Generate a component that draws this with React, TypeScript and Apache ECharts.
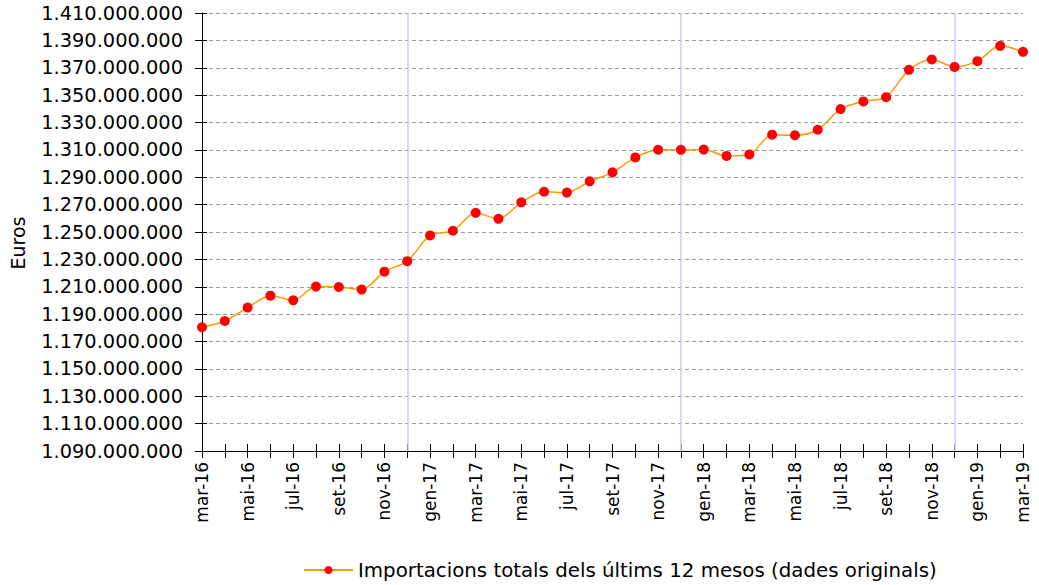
import React, { useEffect, useRef } from "react";
import * as echarts from "echarts";

const categories = [
  "mar-16", "abr-16", "mai-16", "jun-16", "jul-16", "ago-16", "set-16", "oct-16", "nov-16", "des-16",
  "gen-17", "feb-17", "mar-17", "abr-17", "mai-17", "jun-17", "jul-17", "ago-17", "set-17", "oct-17", "nov-17", "des-17",
  "gen-18", "feb-18", "mar-18", "abr-18", "mai-18", "jun-18", "jul-18", "ago-18", "set-18", "oct-18", "nov-18", "des-18",
  "gen-19", "feb-19", "mar-19",
];

const importacions = [
  1180400000, 1185000000, 1194800000, 1203500000, 1200100000, 1210100000, 1209800000, 1207900000, 1221000000, 1228700000,
  1247500000, 1250900000, 1264000000, 1259600000, 1271700000, 1279400000, 1278800000, 1287000000, 1293600000, 1304500000, 1310100000, 1310000000,
  1310200000, 1305600000, 1306700000, 1321100000, 1320700000, 1324700000, 1339800000, 1345400000, 1348500000, 1368500000, 1376000000, 1370600000,
  1374800000, 1386000000, 1381600000,
];

const yearBreaks = ["des-16", "des-17", "des-18"];

const seriesName = "Importacions totals dels últims 12 mesos (dades originals)";
const yAxisName = "Euros";

const yMin = 1090000000;
const yMax = 1410000000;
const yStep = 20000000;

const fmt = (n: number) => String(Math.round(n)).replace(/\B(?=(\d{3})+(?!\d))/g, ".");

const FONT = "DejaVu Sans";

export default function App() {
  const ref = useRef<HTMLDivElement>(null);

  useEffect(() => {
    document.body.style.margin = "0";
    if (!ref.current) return;
    const chart = echarts.init(ref.current, undefined, { renderer: "svg" });
    const span = yMax - yMin;
    chart.setOption({
      animation: false,
      backgroundColor: "#ffffff",
      textStyle: { fontFamily: FONT, color: "#000" },
      grid: { left: 201.5, right: 16, top: 13, bottom: 134, containLabel: false },
      legend: {
        data: [seriesName],
        left: 298,
        top: 555,
        itemWidth: 49,
        itemHeight: 10,
        textStyle: { fontFamily: FONT, fontSize: 19.8, color: "#000" },
      },
      xAxis: [
        {
          type: "category",
          data: categories,
          boundaryGap: false,
          position: "bottom",
          axisLine: { show: true, lineStyle: { color: "#000", width: 1 } },
          axisTick: { show: true, inside: false, length: 7, interval: 0, lineStyle: { color: "#000" } },
          axisLabel: {
            interval: 1,
            rotate: 90,
            margin: 11,
            fontFamily: FONT,
            fontSize: 17,
            color: "#000",
          },
          splitLine: { show: false },
        },
        {
          type: "category",
          data: categories,
          boundaryGap: false,
          position: "bottom",
          axisLine: { show: false },
          axisTick: { show: true, inside: true, length: 7, interval: 0, lineStyle: { color: "#000" } },
          axisLabel: { show: false },
          splitLine: { show: false },
        },
      ],
      yAxis: [
        {
          type: "value",
          min: 0,
          max: span,
          interval: yStep,
          position: "left",
          name: yAxisName,
          nameLocation: "middle",
          nameGap: 175,
          nameTextStyle: { fontFamily: FONT, fontSize: 19, color: "#000", padding: [0, 22, 0, 0] },
          axisLine: { show: true, lineStyle: { color: "#000", width: 1 } },
          axisTick: { show: true, inside: false, length: 7, lineStyle: { color: "#000" } },
          axisLabel: {
            margin: 19,
            fontFamily: FONT,
            fontSize: 19.4,
            color: "#000",
            formatter: (v: number) => fmt(v + yMin),
          },
          splitLine: { show: true, lineStyle: { color: "#9a9a9a", type: [4, 3], width: 1 } },
        },
        {
          type: "value",
          min: 0,
          max: span,
          interval: yStep,
          position: "left",
          axisLine: { show: false },
          axisTick: { show: true, inside: true, length: 5, lineStyle: { color: "#000" } },
          axisLabel: { show: false },
          splitLine: { show: false },
        },
      ],
      series: [
        {
          name: seriesName,
          type: "line",
          xAxisIndex: 0,
          yAxisIndex: 0,
          data: importacions.map((v) => v - yMin),
          smooth: 0.3,
          symbol: "circle",
          symbolSize: 10,
          showSymbol: true,
          lineStyle: { color: "#ff9900", width: 1.5 },
          itemStyle: { color: "#ff0000", borderWidth: 0 },
          z: 3,
          markLine: {
            silent: true,
            z: 1,
            symbol: "none",
            label: { show: false },
            lineStyle: { color: "#c8c8ff", type: "solid", width: 1.5 },
            data: yearBreaks.map((c) => ({ xAxis: c })),
          },
        },
      ],
    });
    return () => chart.dispose();
  }, []);

  return <div ref={ref} style={{ width: 1039, height: 585 }} />;
}
